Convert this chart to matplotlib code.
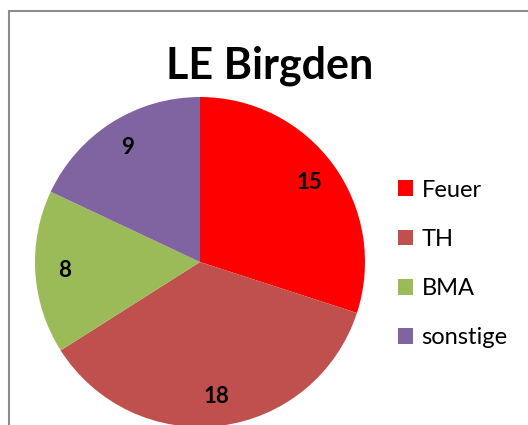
import matplotlib
matplotlib.use("Agg")
import matplotlib.pyplot as plt
from matplotlib.patches import Rectangle

# -----------------------------
# Data
# -----------------------------
labels = ["Feuer", "TH", "BMA", "sonstige"]
values = [15, 18, 8, 9]
colors = ["#FF0000", "#C0504D", "#9BBB59", "#8064A2"]
title = "LE Birgden"

plt.rcParams['font.family'] = ['Lato', 'DejaVu Sans']

W, H = 528, 425
fig = plt.figure(figsize=(W / 100, H / 100), dpi=100)

# chart border (cropped at right and bottom)
fig.patches.append(Rectangle((9 / W, -0.1), 1.2, 1 - 11 / H + 0.1,
                             transform=fig.transFigure, fill=False,
                             edgecolor="#8c8c8c", linewidth=1.5))

# pie axes: centre (200, 262) px, radius 165 px
cx, cy, r = 200, 262, 165
ax = fig.add_axes([(cx - r) / W, (H - cy - r) / H, 2 * r / W, 2 * r / H])
wedges, _, autotexts = ax.pie(
    values,
    colors=colors,
    startangle=90,
    counterclock=False,
    radius=1,
    autopct=lambda p: "%d" % round(p * sum(values) / 100),
    pctdistance=0.82,
    textprops=dict(fontsize=16, fontweight="bold", color="black"),
)
ax.set_xlim(-1, 1)
ax.set_ylim(-1, 1)
ax.set_aspect("equal")
ax.axis("off")

fig.text(270 / W, 1 - 66 / H, title, ha="center", va="center",
         fontsize=31, fontweight="bold")

fig.legend(wedges, labels, loc="center left",
           bbox_to_anchor=(377 / W, 1 - 264 / H),
           frameon=False, fontsize=17, handlelength=0.64,
           handleheight=0.64, handletextpad=0.35, labelspacing=1.2)

fig.savefig("out.png", dpi=100)
